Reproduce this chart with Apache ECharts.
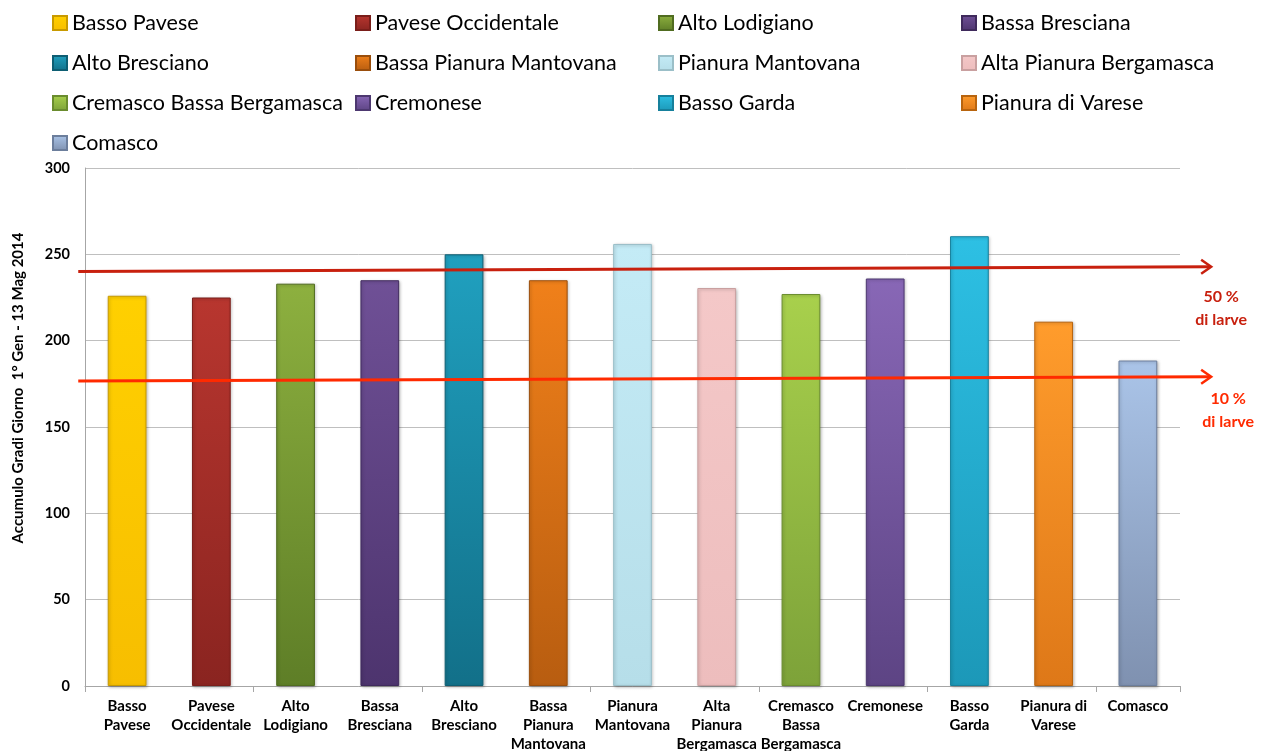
<!DOCTYPE html>
<html>
<head>
<meta charset="utf-8">
<script src="https://cdn.jsdelivr.net/npm/echarts@6/dist/echarts.min.js"></script>
<style>
html,body{margin:0;padding:0;background:#fff;}
#c{width:1262px;height:751px;}
</style>
</head>
<body>
<div id="c"></div>
<script>
// ---- data ----
var categories = ['Basso Pavese','Pavese Occidentale','Alto Lodigiano','Bassa Bresciana','Alto Bresciano','Bassa Pianura Mantovana','Pianura Mantovana','Alta Pianura Bergamasca','Cremasco Bassa Bergamasca','Cremonese','Basso Garda','Pianura di Varese','Comasco'];
var tickLabels = ['Basso\nPavese','Pavese\nOccidentale','Alto\nLodigiano','Bassa\nBresciana','Alto\nBresciano','Bassa\nPianura\nMantovana','Pianura\nMantovana','Alta\nPianura\nBergamasca','Cremasco\nBassa\nBergamasca','Cremonese','Basso\nGarda','Pianura di\nVarese','Comasco'];
var values = [226, 225, 233, 235, 250, 235, 256, 230.5, 227, 236, 260.5, 211, 188.5];
var yTicks = [0, 50, 100, 150, 200, 250, 300];
// threshold arrows: [x start (category position), y start, x tip, y tip]
var line50 = [-0.58, 240, 12.87, 242.8];
var line10 = [-0.58, 176.6, 12.87, 179.1];
var arrowLabels = ['50 %\ndi larve', '10 %\ndi larve'];

// ---- styles ----
var colTop = ['#FFD000','#B8362F','#8DB03F','#6F5096','#20A0BF','#F0801A','#C4EBF6','#F4C8C8','#A8D04C','#8867B6','#2DC0E4','#FF9C2C','#AAC4E8'];
var colBot = ['#F7BE00','#8A2420','#5E7E27','#4D346E','#127089','#B85D10','#B6DEE9','#EDBDBD','#7DA239','#5D4484','#1C98B8','#DE7818','#7F91B0'];
var colBorder = ['#C89A00','#7A1E1A','#506C20','#3F2A5C','#0E5E73','#9A4E0C','#9BBFC8','#C9A0A0','#6A8C2E','#4D3870','#16809C','#B8640E','#6C7E9C'];
var arrowColors = ['#C8200E', '#FF2A00'];
var labelOffsets = [[10, 19], [17, 11]];

function grad(i){
  return new echarts.graphic.LinearGradient(0,0,0,1,[
    {offset:0,color:colTop[i]},{offset:1,color:colBot[i]}]);
}

var series = categories.map(function(name, i){
  return {
    name: name,
    type: 'bar',
    stack: 'all',
    barWidth: '46%',
    data: values.map(function(v, j){ return j === i ? v : null; }),
    itemStyle: {
      color: grad(i),
      borderColor: colBorder[i],
      borderWidth: 1,
      shadowColor: 'rgba(0,0,0,0.25)',
      shadowBlur: 3,
      shadowOffsetX: 1,
      shadowOffsetY: 1
    }
  };
});

series.push({
  type: 'custom',
  xAxisIndex: 1,
  clip: false,
  silent: true,
  z: 5,
  data: [line50, line10],
  encode: {x: [0, 2], y: [1, 3]},
  renderItem: function(params, api){
    var i = params.dataIndex;
    var p0 = api.coord([api.value(0), api.value(1)]);
    var p1 = api.coord([api.value(2), api.value(3)]);
    var c = arrowColors[i];
    var off = labelOffsets[i];
    return {
      type: 'group',
      children: [
        {type: 'line', shape: {x1: p0[0], y1: p0[1], x2: p1[0] - 1, y2: p1[1]},
         style: {stroke: c, lineWidth: 3}},
        {type: 'polyline', shape: {points: [[p1[0] - 10, p1[1] - 7], [p1[0], p1[1]], [p1[0] - 10, p1[1] + 7]]},
         style: {stroke: c, lineWidth: 2.5, fill: null}},
        {type: 'text', x: p1[0] + off[0], y: p1[1] + off[1],
         style: {text: arrowLabels[i], fill: c, font: 'bold 16px Lato', lineHeight: 23,
                 align: 'center', verticalAlign: 'top'}}
      ]
    };
  }
});

var chart = echarts.init(document.getElementById('c'));
chart.setOption({
  animation: false,
  backgroundColor: '#fff',
  textStyle: {fontFamily: 'Lato'},
  legend: {
    data: categories,
    left: 52,
    top: 3,
    width: 1230,
    padding: 0,
    itemWidth: 14,
    itemHeight: 14,
    itemGap: 0,
    icon: 'rect',
    textStyle: {fontFamily: 'Lato', fontSize: 21.5, color: '#000', width: 283, lineHeight: 40}
  },
  grid: {left: 85, right: 82, top: 168, bottom: 65, containLabel: false, outerBoundsMode: 'none'},
  xAxis: [{
    type: 'category',
    data: categories,
    axisLine: {onZero: false, lineStyle: {color: '#A6A6A6'}},
    axisTick: {show: true, interval: 1, length: 6, lineStyle: {color: '#A6A6A6'}},
    axisLabel: {
      interval: 0,
      margin: 11,
      formatter: function(v, i){ return tickLabels[i]; },
      fontFamily: 'Lato', fontWeight: 'bold', fontSize: 15, lineHeight: 19, color: '#000'
    }
  }, {
    type: 'value',
    min: -0.5, max: 12.5,
    show: false
  }],
  yAxis: {
    type: 'value',
    min: yTicks[0],
    max: yTicks[yTicks.length - 1],
    interval: 50,
    name: 'Accumulo Gradi Giorno  1° Gen - 13 Mag 2014',
    nameLocation: 'middle',
    nameRotate: 90,
    nameGap: 59,
    nameTextStyle: {fontFamily: 'Lato', fontWeight: 'bold', fontSize: 15, color: '#000', padding: [0, 0, 0, 78]},
    axisLine: {show: true, onZero: false, lineStyle: {color: '#A6A6A6'}},
    axisTick: {show: false},
    splitLine: {lineStyle: {color: '#BFBFBF'}},
    axisLabel: {margin: 15, fontFamily: 'Lato', fontWeight: 'bold', fontSize: 14.5, color: '#000'}
  },
  series: series
});
</script>
</body>
</html>
